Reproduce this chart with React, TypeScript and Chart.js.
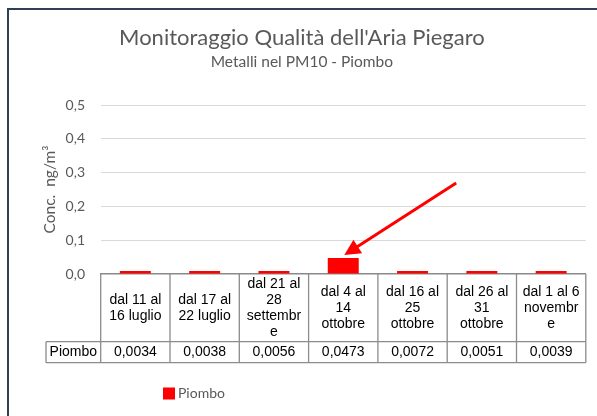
import React, { useEffect, useRef } from 'react';
import { Chart, registerables } from 'chart.js';

Chart.register(...registerables);

const categories: string[][] = [
  ['dal 11 al', '16 luglio'],
  ['dal 17 al', '22 luglio'],
  ['dal 21 al', '28', 'settembr', 'e'],
  ['dal 4 al', '14', 'ottobre'],
  ['dal 16 al', '25', 'ottobre'],
  ['dal 26 al', '31', 'ottobre'],
  ['dal 1 al 6', 'novembr', 'e'],
];
const seriesName = 'Piombo';
const piombo = [0.0034, 0.0038, 0.0056, 0.0473, 0.0072, 0.0051, 0.0039];
const yTicks = [0, 0.1, 0.2, 0.3, 0.4, 0.5];
const arrowFrom = { x: 4.63, y: 0.269 };
const arrowTo = { x: 3.015, y: 0.056 };

const titleText = "Monitoraggio Qualità dell'Aria Piegaro";
const subtitleText = 'Metalli nel PM10 - Piombo';
const yTitle = 'Conc.  ng/m³';

const fmtTick = (v: number) => v.toFixed(1).replace('.', ',');
const fmtVal = (v: number) => v.toFixed(4).replace('.', ',');

const extrasPlugin = {
  id: 'extras',
  afterDraw(chart: any) {
    const { ctx, chartArea, scales } = chart;
    const xs = scales.x;
    const ys = scales.y;
    const n = categories.length;
    const colW = (chartArea.right - chartArea.left) / n;
    const top = chartArea.bottom;
    const rowSplit = top + 67.7;
    const bottom = rowSplit + 21;
    const headerLeft = 46;

    const line = (x1: number, y1: number, x2: number, y2: number) => {
      ctx.beginPath();
      ctx.moveTo(x1, y1);
      ctx.lineTo(x2, y2);
      ctx.stroke();
    };

    ctx.save();
    // data table
    ctx.strokeStyle = '#8c8c8c';
    ctx.lineWidth = 1.3;
    for (let i = 0; i <= n; i++) {
      const px = chartArea.left + i * colW;
      line(px, top, px, bottom);
    }
    line(headerLeft, rowSplit, chartArea.right, rowSplit);
    line(headerLeft, bottom, chartArea.right, bottom);
    line(headerLeft, rowSplit, headerLeft, bottom);

    ctx.fillStyle = '#000000';
    ctx.font = '14px "Liberation Sans", Arial, sans-serif';
    ctx.textAlign = 'center';
    ctx.textBaseline = 'middle';
    const lh = 16;
    const midCat = (top + rowSplit) / 2;
    const midVal = (rowSplit + bottom) / 2;
    categories.forEach((lines, i) => {
      const cx = xs.getPixelForValue(i);
      const startY = midCat - ((lines.length - 1) * lh) / 2;
      lines.forEach((t, j) => ctx.fillText(t, cx, startY + j * lh));
      ctx.fillText(fmtVal(piombo[i]), cx, midVal);
    });
    ctx.fillText(seriesName, (headerLeft + chartArea.left) / 2, midVal);

    // arrow
    const tx = xs.getPixelForValue(arrowTo.x);
    const ty = ys.getPixelForValue(arrowTo.y);
    const fx = xs.getPixelForValue(arrowFrom.x);
    const fy = ys.getPixelForValue(arrowFrom.y);
    const ang = Math.atan2(ty - fy, tx - fx);
    const headLen = 16;
    const headHalf = 8;
    const bx = tx - headLen * Math.cos(ang);
    const by = ty - headLen * Math.sin(ang);
    ctx.strokeStyle = '#ff0000';
    ctx.fillStyle = '#ff0000';
    ctx.lineWidth = 3;
    line(fx, fy, bx + 2 * Math.cos(ang), by + 2 * Math.sin(ang));
    ctx.beginPath();
    ctx.moveTo(tx, ty);
    ctx.lineTo(bx + headHalf * Math.sin(ang), by - headHalf * Math.cos(ang));
    ctx.lineTo(bx - headHalf * Math.sin(ang), by + headHalf * Math.cos(ang));
    ctx.closePath();
    ctx.fill();

    // legend
    const ly = 393.5;
    const lx = 163;
    ctx.fillStyle = '#ff0000';
    ctx.fillRect(lx, ly - 6, 12, 12);
    ctx.fillStyle = '#595959';
    ctx.font = '14px Lato, sans-serif';
    ctx.textAlign = 'left';
    ctx.fillText(seriesName, lx + 15, ly);

    // chart frame
    ctx.strokeStyle = '#2f3f55';
    ctx.lineWidth = 2;
    ctx.beginPath();
    ctx.moveTo(8, chart.height + 2);
    ctx.lineTo(8, 9);
    ctx.lineTo(chart.width + 2, 9);
    ctx.stroke();
    ctx.restore();
  },
};

export default function App() {
  const ref = useRef<HTMLCanvasElement | null>(null);

  useEffect(() => {
    if (!ref.current) return;
    const chart = new Chart(ref.current, {
      type: 'bar',
      data: {
        labels: categories,
        datasets: [
          {
            label: seriesName,
            data: piombo,
            backgroundColor: '#ff0000',
            borderWidth: 0,
            barPercentage: 0.447,
            categoryPercentage: 1,
            minBarLength: 3,
          },
        ],
      },
      options: {
        responsive: false,
        animation: false,
        devicePixelRatio: 1,
        layout: { padding: { top: 17, left: 18, right: 11.2, bottom: 53 } },
        plugins: {
          legend: { display: false },
          tooltip: { enabled: false },
          title: {
            display: true,
            text: titleText,
            color: '#595959',
            font: { family: 'Lato', size: 22, weight: 'normal', lineHeight: 1.2 },
            padding: { top: 7.8, bottom: 1.5 },
          },
          subtitle: {
            display: true,
            text: subtitleText,
            color: '#595959',
            font: { family: 'Lato', size: 15.5, weight: 'normal', lineHeight: 1.2 },
            padding: { top: 0, bottom: 33.7 },
          },
        },
        scales: {
          x: {
            grid: { display: false },
            border: { display: true, color: '#898989', width: 1.5 },
            ticks: { display: false },
            afterFit: (s: any) => {
              s.height = 89;
            },
          },
          y: {
            min: 0,
            max: 0.5,
            afterBuildTicks: (s: any) => {
              s.ticks = yTicks.map((v) => ({ value: v }));
            },
            ticks: {
              callback: (v: any) => fmtTick(Number(v)),
              color: '#595959',
              font: { family: 'Lato', size: 14 },
              padding: 15.7,
            },
            grid: {
              color: (c: any) => (c.tick && c.tick.value === 0 ? 'rgba(0,0,0,0)' : '#d9d9d9'),
              drawTicks: false,
              lineWidth: 1,
            },
            border: { display: false },
            title: {
              display: true,
              text: yTitle,
              color: '#595959',
              font: { family: 'Lato', size: 15.5, lineHeight: 1.2 },
              padding: { top: 22.7, bottom: 0 },
            },
            afterFit: (s: any) => {
              s.width = 82.7;
            },
          },
        },
      },
      plugins: [extrasPlugin],
    });
    return () => chart.destroy();
  }, []);

  return (
    <div style={{ position: 'absolute', left: 0, top: 0, width: 597, height: 416, background: '#ffffff' }}>
      <canvas ref={ref} width={597} height={416} style={{ display: 'block' }} />
    </div>
  );
}
